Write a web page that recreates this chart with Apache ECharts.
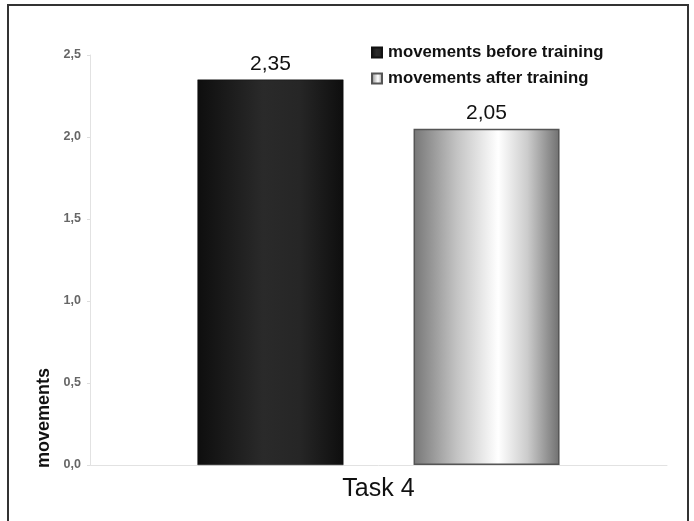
<!DOCTYPE html>
<html>
<head>
<meta charset="utf-8">
<script src="https://cdn.jsdelivr.net/npm/echarts@6/dist/echarts.min.js"></script>
<style>
html,body{margin:0;padding:0;background:#fff;}
#chart{width:694px;height:521px;}
</style>
</head>
<body>
<div id="chart"></div>
<script>
// Data
var categories = ['Task 4'];
var seriesNames = ['movements before training', 'movements after training'];
var beforeValues = [2.35];
var afterValues = [2.05];
var yTicks = {min: 0, max: 2.5, interval: 0.5};
var yAxisTitle = 'movements';

var FONT = '"Liberation Sans", Arial, Helvetica, sans-serif';
function comma(v, d) { return Number(v).toFixed(d).replace('.', ','); }

var darkGrad = new echarts.graphic.LinearGradient(0, 0, 1, 0, [
  {offset: 0, color: '#0e0e0e'},
  {offset: 0.45, color: '#2a2a2a'},
  {offset: 0.7, color: '#262626'},
  {offset: 1, color: '#0e0e0e'}
]);
var lightGrad = new echarts.graphic.LinearGradient(0, 0, 1, 0, [
  {offset: 0, color: '#777777'},
  {offset: 0.3, color: '#c4c4c4'},
  {offset: 0.58, color: '#ffffff'},
  {offset: 0.78, color: '#cccccc'},
  {offset: 1, color: '#707070'}
]);

var chart = echarts.init(document.getElementById('chart'), null, {renderer: 'canvas'});
chart.setOption({
  backgroundColor: '#ffffff',
  animation: false,
  textStyle: {fontFamily: FONT},
  grid: {left: 90, right: 27, top: 55, bottom: 56, containLabel: false},
  legend: {
    orient: 'vertical',
    left: 366,
    top: 39,
    itemWidth: 10,
    itemHeight: 10,
    itemGap: 9,
    icon: 'rect',
    textStyle: {fontFamily: FONT, fontSize: 16.8, fontWeight: 'bold', color: '#111', padding: [0, 0, 0, 1]},
    data: seriesNames
  },
  xAxis: {
    type: 'category',
    data: categories,
    axisLine: {lineStyle: {color: '#e2e2e2', width: 1}},
    axisTick: {show: false},
    axisLabel: {fontFamily: FONT, fontSize: 25, color: '#111', margin: 12}
  },
  yAxis: {
    type: 'value',
    min: yTicks.min,
    max: yTicks.max,
    interval: yTicks.interval,
    axisLine: {show: true, lineStyle: {color: '#e2e2e2', width: 1}},
    axisTick: {show: true, length: 3, lineStyle: {color: '#dddddd'}},
    splitLine: {show: false},
    axisLabel: {
      fontFamily: FONT, fontSize: 12.5, fontWeight: 'bold', color: '#666', margin: 9,
      formatter: function (v) { return comma(v, 1); }
    }
  },
  graphic: [
    {
      type: 'rect',
      shape: {x: 8, y: 5, width: 680, height: 540},
      style: {fill: 'none', stroke: '#333', lineWidth: 2},
      z: 100
    },
    {
      type: 'text',
      x: 44, y: 418,
      rotation: Math.PI / 2,
      style: {
        text: yAxisTitle,
        fontFamily: FONT, fontSize: 18, fontWeight: 'bold', fill: '#111',
        align: 'center', verticalAlign: 'middle'
      }
    }
  ],
  series: [
    {
      name: seriesNames[0],
      type: 'bar',
      data: beforeValues,
      barWidth: 146,
      barGap: '48%',
      itemStyle: {color: darkGrad, borderColor: '#111', borderWidth: 0.5},
      label: {
        show: true, position: 'top', distance: 5,
        fontFamily: FONT, fontSize: 21, color: '#111',
        formatter: function (p) { return comma(p.value, 2); }
      }
    },
    {
      name: seriesNames[1],
      type: 'bar',
      data: afterValues,
      barWidth: 146,
      itemStyle: {color: lightGrad, borderColor: '#555', borderWidth: 1.5},
      label: {
        show: true, position: 'top', distance: 5,
        fontFamily: FONT, fontSize: 21, color: '#111',
        formatter: function (p) { return comma(p.value, 2); }
      }
    }
  ]
});
</script>
</body>
</html>
